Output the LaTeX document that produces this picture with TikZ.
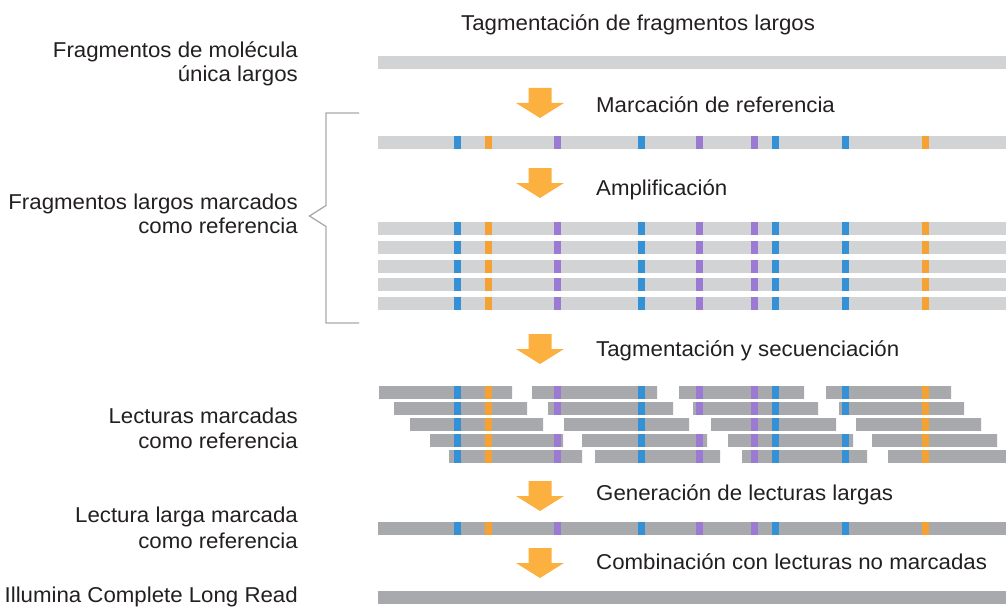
\documentclass[tikz,border=0pt]{standalone}
\usepackage{fontspec}
\setmainfont[FakeStretch=1.035]{Liberation Sans}
\definecolor{lightbar}{HTML}{D1D3D4}
\definecolor{darkbar}{HTML}{A7A9AC}
\definecolor{mblue}{HTML}{3591D5}
\definecolor{morange}{HTML}{F5A133}
\definecolor{mpurple}{HTML}{9A7AD3}
\definecolor{arrowc}{HTML}{FBB040}
\definecolor{txtc}{HTML}{231F20}
\newcommand{\drawrefmarks}[2]{%
  \foreach \mx/\mc in {454/mblue,485/morange,554/mpurple,638/mblue,696/mpurple,751/mpurple,772/mblue,842/mblue,922/morange}{%
    \fill[\mc] (\mx,#1) rectangle ++(7,#2);}}
\tikzset{
  lbl/.style={inner sep=0pt, text=txtc, font=\fontsize{21.5}{26}\selectfont},
  lblL/.style={lbl, anchor=base east},
  lblR/.style={lbl, anchor=base west},
  downarr/.pic={\fill[arrowc] (-11.5,0) -- (11.5,0) -- (11.5,15) -- (24,15) -- (0,30) -- (-24,15) -- (-11.5,15) -- cycle;},
  bracketline/.style={draw=darkbar, line width=1.3pt}
}
\begin{document}
\begin{tikzpicture}[x=1pt,y=-1pt]
\useasboundingbox (0,0) rectangle (1006,607);
% top labels
\node[lblR] (t1) at (461,31) {Tagmentación de fragmentos largos};
\node[lblL] (l1a) at (298,58) {Fragmentos de molécula};
\node[lblL] (l1b) at (298,82) {única largos};
% long fragment
\fill[lightbar] (378,56.5) rectangle (1006,69);
% arrow 1
\pic (a1) at (540,88) {downarr};
\node[lblR] (t2) at (596,113) {Marcación de referencia};
% tagged fragment
\fill[lightbar] (378,136) rectangle (1006,149);
\drawrefmarks{136}{13}
% arrow 2
\pic (a2) at (540,168) {downarr};
\node[lblR] (t3) at (596,195) {Amplificación};
% amplified fragments
\foreach \yy in {222,240.75,259.5,278.25,297}{
  \fill[lightbar] (378,\yy) rectangle (1006,\yy+13);
  \drawrefmarks{\yy}{13}
}
% bracket
\draw[bracketline] (359,113) -- (326,113) -- (326,205.5) -- (309.5,216) -- (326,226.5) -- (326,323) -- (359,323);
\node[lblL] (l2a) at (298,209) {Fragmentos largos marcados};
\node[lblL] (l2b) at (298,233) {como referencia};
% arrow 3
\pic (a3) at (540,334) {downarr};
\node[lblR] (t4) at (596,356) {Tagmentación y secuenciación};
% reads
\foreach \yy/\sa/\sb/\sc/\sd in {386/379/532/679/826, 402/394/548/693/839, 418/410/564/711/856, 434/430/582/728/872, 450/449/595/742/888}{
  \begin{scope}
    \clip (\sa,\yy) rectangle ++(133,13) (\sb,\yy) rectangle ++(125,13)
          (\sc,\yy) rectangle ++(125,13) (\sd,\yy) rectangle ++(125,13);
    \fill[darkbar] (370,\yy) rectangle (1006,\yy+13);
    \drawrefmarks{\yy}{13}
  \end{scope}
}
\node[lblL] (l3a) at (298,423) {Lecturas marcadas};
\node[lblL] (l3b) at (298,448) {como referencia};
% arrow 4
\pic (a4) at (540,481) {downarr};
\node[lblR] (t5) at (596,500) {Generación de lecturas largas};
% consensus
\fill[darkbar] (378,522) rectangle (1006,535);
\drawrefmarks{522}{13}
\node[lblL] (l4a) at (298,522) {Lectura larga marcada};
\node[lblL] (l4b) at (298,548) {como referencia};
% arrow 5
\pic (a5) at (540,548) {downarr};
\node[lblR] (t6) at (596,569) {Combinación con lecturas no marcadas};
% final
\fill[darkbar] (378,591) rectangle (1006,604);
\node[lblL] (l5) at (298,602) {Illumina Complete Long Read};
\end{tikzpicture}
\end{document}
